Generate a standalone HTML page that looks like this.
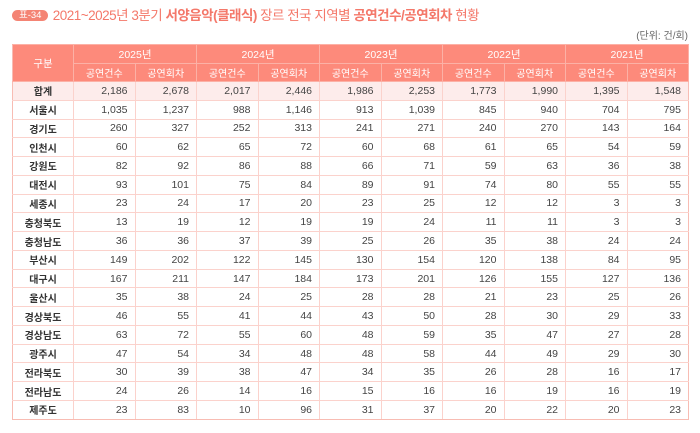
<!DOCTYPE html>
<html><head><meta charset="utf-8">
<style>
html,body{margin:0;padding:0;background:#fff;}
body{width:700px;height:433px;position:relative;overflow:hidden;font-family:"Liberation Sans","Noto Sans CJK KR",sans-serif;}
.title{position:absolute;left:12px;top:6px;font-size:13.5px;color:#f4786a;white-space:nowrap;letter-spacing:-0.5px;line-height:20px;}
.badge{display:inline-block;background:#f48474;color:#fff;font-size:9.5px;line-height:11px;height:11px;padding:0 7px;border-radius:6px;vertical-align:2px;margin-right:1px;letter-spacing:0;}
.title b{font-weight:bold;}
.unit{position:absolute;right:12px;top:27px;font-size:10px;color:#666;}
table{position:absolute;left:12px;top:44px;width:676px;border-collapse:collapse;table-layout:fixed;}
td,th{padding:0;box-sizing:border-box;}
th{background:#fd8a7b;color:#fff;font-weight:normal;font-size:10px;border:1px solid #fcb1a6;text-align:center;}
tr.h1 th{height:19px;font-size:10.5px;}
tr.h2 th{height:18px;}
td{border:1px solid #fbd2cc;font-size:10.5px;color:#444;text-align:right;padding-right:7px;height:18.78px;}
td.r{text-align:center;padding:0;font-weight:bold;color:#333;font-size:10px;}
tr.tot td{background:#fdeceb;}
tr:last-child td{border-bottom:1.5px solid #f8bcb3;}
td:first-child, th:first-child{border-left:1.5px solid #f8bcb3;}
td:last-child{border-right:1.5px solid #f8bcb3;}
</style></head><body>
<div class="title"><span class="badge">표-34</span> 2021~2025년 3분기 <b>서양음악(클래식)</b> 장르 전국 지역별 <b>공연건수/공연회차</b> 현황</div>
<div class="unit">(단위: 건/회)</div>
<table>
<colgroup><col style="width:61px"><col style="width:61.5px"><col style="width:61.5px"><col style="width:61.5px"><col style="width:61.5px"><col style="width:61.5px"><col style="width:61.5px"><col style="width:61.5px"><col style="width:61.5px"><col style="width:61.5px"><col style="width:61.5px"></colgroup>
<tr class="h1"><th rowspan="2">구분</th><th colspan="2">2025년</th><th colspan="2">2024년</th><th colspan="2">2023년</th><th colspan="2">2022년</th><th colspan="2">2021년</th></tr>
<tr class="h2"><th>공연건수</th><th>공연회차</th><th>공연건수</th><th>공연회차</th><th>공연건수</th><th>공연회차</th><th>공연건수</th><th>공연회차</th><th>공연건수</th><th>공연회차</th></tr>
<tr class="tot"><td class="r">합계</td><td>2,186</td><td>2,678</td><td>2,017</td><td>2,446</td><td>1,986</td><td>2,253</td><td>1,773</td><td>1,990</td><td>1,395</td><td>1,548</td></tr>
<tr><td class="r">서울시</td><td>1,035</td><td>1,237</td><td>988</td><td>1,146</td><td>913</td><td>1,039</td><td>845</td><td>940</td><td>704</td><td>795</td></tr>
<tr><td class="r">경기도</td><td>260</td><td>327</td><td>252</td><td>313</td><td>241</td><td>271</td><td>240</td><td>270</td><td>143</td><td>164</td></tr>
<tr><td class="r">인천시</td><td>60</td><td>62</td><td>65</td><td>72</td><td>60</td><td>68</td><td>61</td><td>65</td><td>54</td><td>59</td></tr>
<tr><td class="r">강원도</td><td>82</td><td>92</td><td>86</td><td>88</td><td>66</td><td>71</td><td>59</td><td>63</td><td>36</td><td>38</td></tr>
<tr><td class="r">대전시</td><td>93</td><td>101</td><td>75</td><td>84</td><td>89</td><td>91</td><td>74</td><td>80</td><td>55</td><td>55</td></tr>
<tr><td class="r">세종시</td><td>23</td><td>24</td><td>17</td><td>20</td><td>23</td><td>25</td><td>12</td><td>12</td><td>3</td><td>3</td></tr>
<tr><td class="r">충청북도</td><td>13</td><td>19</td><td>12</td><td>19</td><td>19</td><td>24</td><td>11</td><td>11</td><td>3</td><td>3</td></tr>
<tr><td class="r">충청남도</td><td>36</td><td>36</td><td>37</td><td>39</td><td>25</td><td>26</td><td>35</td><td>38</td><td>24</td><td>24</td></tr>
<tr><td class="r">부산시</td><td>149</td><td>202</td><td>122</td><td>145</td><td>130</td><td>154</td><td>120</td><td>138</td><td>84</td><td>95</td></tr>
<tr><td class="r">대구시</td><td>167</td><td>211</td><td>147</td><td>184</td><td>173</td><td>201</td><td>126</td><td>155</td><td>127</td><td>136</td></tr>
<tr><td class="r">울산시</td><td>35</td><td>38</td><td>24</td><td>25</td><td>28</td><td>28</td><td>21</td><td>23</td><td>25</td><td>26</td></tr>
<tr><td class="r">경상북도</td><td>46</td><td>55</td><td>41</td><td>44</td><td>43</td><td>50</td><td>28</td><td>30</td><td>29</td><td>33</td></tr>
<tr><td class="r">경상남도</td><td>63</td><td>72</td><td>55</td><td>60</td><td>48</td><td>59</td><td>35</td><td>47</td><td>27</td><td>28</td></tr>
<tr><td class="r">광주시</td><td>47</td><td>54</td><td>34</td><td>48</td><td>48</td><td>58</td><td>44</td><td>49</td><td>29</td><td>30</td></tr>
<tr><td class="r">전라북도</td><td>30</td><td>39</td><td>38</td><td>47</td><td>34</td><td>35</td><td>26</td><td>28</td><td>16</td><td>17</td></tr>
<tr><td class="r">전라남도</td><td>24</td><td>26</td><td>14</td><td>16</td><td>15</td><td>16</td><td>16</td><td>19</td><td>16</td><td>19</td></tr>
<tr><td class="r">제주도</td><td>23</td><td>83</td><td>10</td><td>96</td><td>31</td><td>37</td><td>20</td><td>22</td><td>20</td><td>23</td></tr>
</table>
</body></html>
